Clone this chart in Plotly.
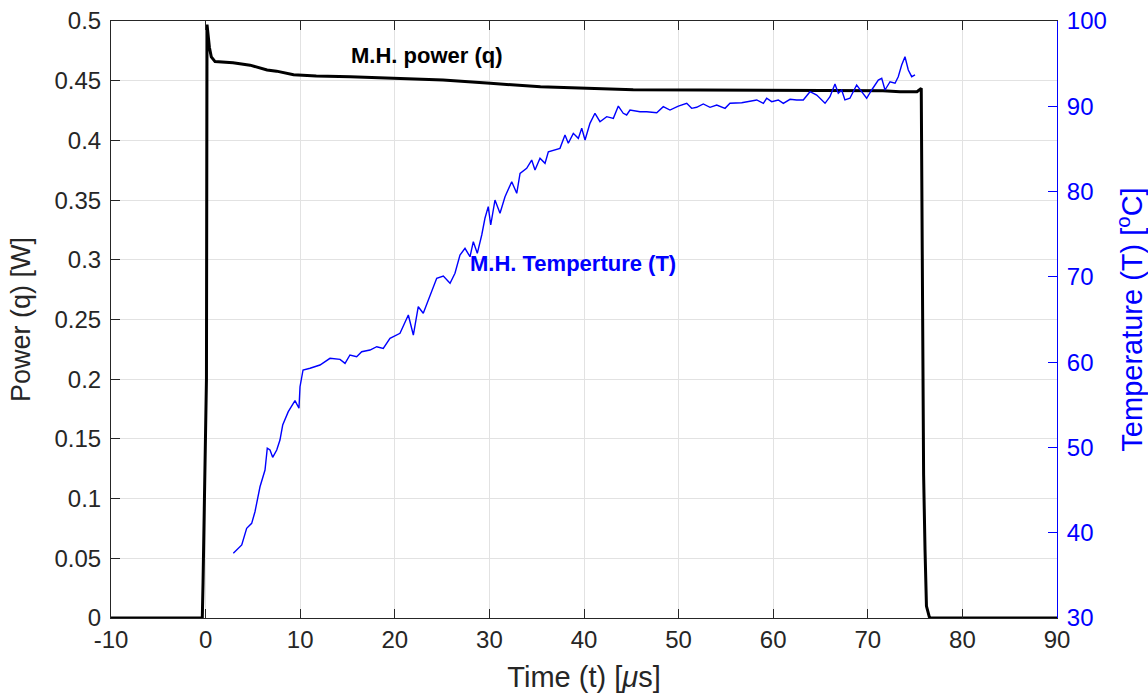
import plotly.graph_objects as go

# power trace (left axis)
t_power = [-10, -0.35, -0.27, 0.09, 0.15, 0.25, 0.4, 0.6, 1.0, 2.9, 4.7, 6.5, 7.5,
           9.3, 11.7, 15.3, 20.5, 25.1, 30.1, 35.4, 40.3, 45.2, 52.3, 62.1, 71.6,
           73.4, 75.2, 75.65, 75.75, 75.9, 76.05, 76.2, 76.5, 76.6, 90]
p_power = [0, 0, 0.03, 0.2, 0.497, 0.49, 0.478, 0.47, 0.466, 0.465, 0.463, 0.459, 0.458,
           0.455, 0.454, 0.4534, 0.452, 0.4506, 0.4478, 0.445, 0.4436, 0.4425, 0.4422,
           0.4416, 0.4416, 0.4408, 0.4408, 0.4436, 0.30, 0.12, 0.057, 0.01, 0.001, 0, 0]

# temperature trace (right axis)
t_temp = [2.93, 3.82, 4.34, 4.87, 5.22, 5.75, 6.28, 6.52, 6.81, 7.09, 7.52, 7.86, 8.15,
          8.74, 9.45, 9.87, 9.98, 10.30, 11.04, 12.09, 13.15, 14.21, 14.74, 15.26, 15.97,
          16.50, 17.38, 18.09, 18.78, 19.49, 20.55, 21.43, 21.96, 22.48, 23.01, 23.72,
          24.43, 25.13, 25.84, 26.36, 26.89, 27.42, 27.95, 28.30, 28.72, 29.19, 29.53,
          29.88, 30.14, 30.59, 31.12, 31.65, 32.36, 32.89, 33.24, 33.94, 34.47, 34.82,
          35.35, 35.88, 36.23, 37.46, 37.99, 38.34, 38.87, 39.40, 39.76, 40.11, 40.63,
          41.16, 41.69, 42.40, 43.10, 43.63, 44.15, 44.51, 44.86, 45.92, 46.63, 47.69,
          48.38, 49.09, 49.97, 50.86, 51.38, 51.91, 52.61, 53.32, 54.03, 54.91, 55.43,
          56.67, 57.73, 58.26, 58.96, 59.31, 59.84, 60.54, 61.07, 61.78, 62.48, 63.18,
          63.89, 64.60, 65.48, 66.00, 66.53, 66.88, 67.24, 67.58, 68.11, 68.82, 69.35,
          69.88, 70.41, 71.11, 71.47, 71.82, 72.35, 72.88, 73.22, 73.58, 73.93, 74.28,
          74.64, 74.99]
T_temp = [37.59, 38.56, 40.52, 41.10, 42.46, 45.39, 47.35, 49.90, 49.70, 48.84, 49.70,
          50.87, 52.63, 54.19, 55.48, 54.59, 57.12, 59.08, 59.28, 59.66, 60.45, 60.33,
          59.86, 60.84, 60.64, 61.22, 61.42, 61.81, 61.62, 62.80, 63.38, 65.53, 63.18,
          66.50, 65.73, 67.67, 69.83, 70.10, 69.24, 70.42, 72.56, 73.35, 72.36, 74.12,
          72.76, 74.91, 76.87, 78.23, 76.08, 79.01, 77.45, 79.40, 81.16, 79.80, 82.14,
          82.73, 83.70, 82.53, 83.90, 83.31, 84.67, 85.07, 86.63, 85.66, 86.83, 86.24,
          87.42, 86.05, 88.00, 89.18, 88.19, 88.78, 88.59, 90.03, 89.18, 88.98, 89.56,
          89.36, 89.36, 89.25, 89.95, 89.56, 90.03, 90.35, 89.76, 89.88, 90.27, 89.88,
          90.15, 89.76, 90.35, 90.42, 90.66, 90.74, 90.35, 90.94, 90.54, 90.74, 90.35,
          90.82, 90.74, 90.74, 91.71, 91.32, 90.35, 91.12, 92.61, 91.52, 91.91, 90.74,
          90.94, 92.49, 91.71, 90.94, 91.91, 93.08, 93.28, 91.91, 92.88, 92.70, 93.47,
          94.84, 95.81, 94.25, 93.47, 93.67]

x_ticks = list(range(-10, 91, 10))
x_labels = [str(v) for v in x_ticks]  # plain hyphen, as in the original
p_ticks = [0, 0.05, 0.1, 0.15, 0.2, 0.25, 0.3, 0.35, 0.4, 0.45, 0.5]
p_labels = ["0", "0.05", "0.1", "0.15", "0.2", "0.25", "0.3", "0.35", "0.4", "0.45", "0.5"]
T_ticks = list(range(30, 101, 10))

FONT = "Arial, Liberation Sans, sans-serif"
AX = "#262626"
BLUE = "#0000ff"
GRID = "#e2e2e2"

fig = go.Figure()
fig.add_trace(go.Scatter(x=t_power, y=p_power, mode="lines",
                         line=dict(color="black", width=3), showlegend=False))
fig.add_trace(go.Scatter(x=t_temp, y=T_temp, mode="lines", yaxis="y2",
                         line=dict(color=BLUE, width=1.4), showlegend=False))

fig.add_annotation(x=23.4, y=0.4715, text="<b>M.H. power (q)</b>", showarrow=False,
                   font=dict(family=FONT, size=22, color="black"))
fig.add_annotation(x=38.8, y=0.2965, text="<b>M.H. Temperture (T)</b>", showarrow=False,
                   font=dict(family=FONT, size=22, color=BLUE))

fig.update_layout(
    width=1148, height=695,
    margin=dict(l=111, r=91, t=21, b=77),
    paper_bgcolor="white", plot_bgcolor="white",
    font=dict(family=FONT, size=24, color=AX),
    xaxis=dict(range=[-10, 90], tickvals=x_ticks, ticktext=x_labels, ticks="inside",
               ticklen=9, tickcolor=AX, showline=True, linecolor=AX, linewidth=1,
               mirror="ticks", showgrid=True, gridcolor=GRID, zeroline=False,
               automargin=False,
               title=dict(text="Time (t) [<i>μ</i>s]", font=dict(size=29), standoff=14)),
    yaxis=dict(range=[0, 0.5], tickvals=p_ticks, ticktext=p_labels, ticks="inside",
               ticklen=9, tickcolor=AX, showline=True, linecolor=AX, linewidth=1,
               showgrid=True, gridcolor=GRID, zeroline=False, automargin=False,
               ticklabelstandoff=4,
               title=dict(text="Power (q) [W]", font=dict(size=27), standoff=16)),
    yaxis2=dict(range=[30, 100], tickvals=T_ticks, overlaying="y", side="right",
                ticks="inside", ticklen=9, tickcolor=BLUE, showline=True, linecolor=BLUE,
                linewidth=1, showgrid=False, zeroline=False, automargin=False,
                tickfont=dict(color=BLUE), ticklabelstandoff=4,
                title=dict(text="Temperature (T) [<sup>o</sup>C]",
                           font=dict(size=29, color=BLUE), standoff=21)),
)

# drop the page's default body margin so the figure sits at the window's corner
fig.write_html("out.html", config={"displayModeBar": False},
               post_script="document.body.style.margin='0px';")
